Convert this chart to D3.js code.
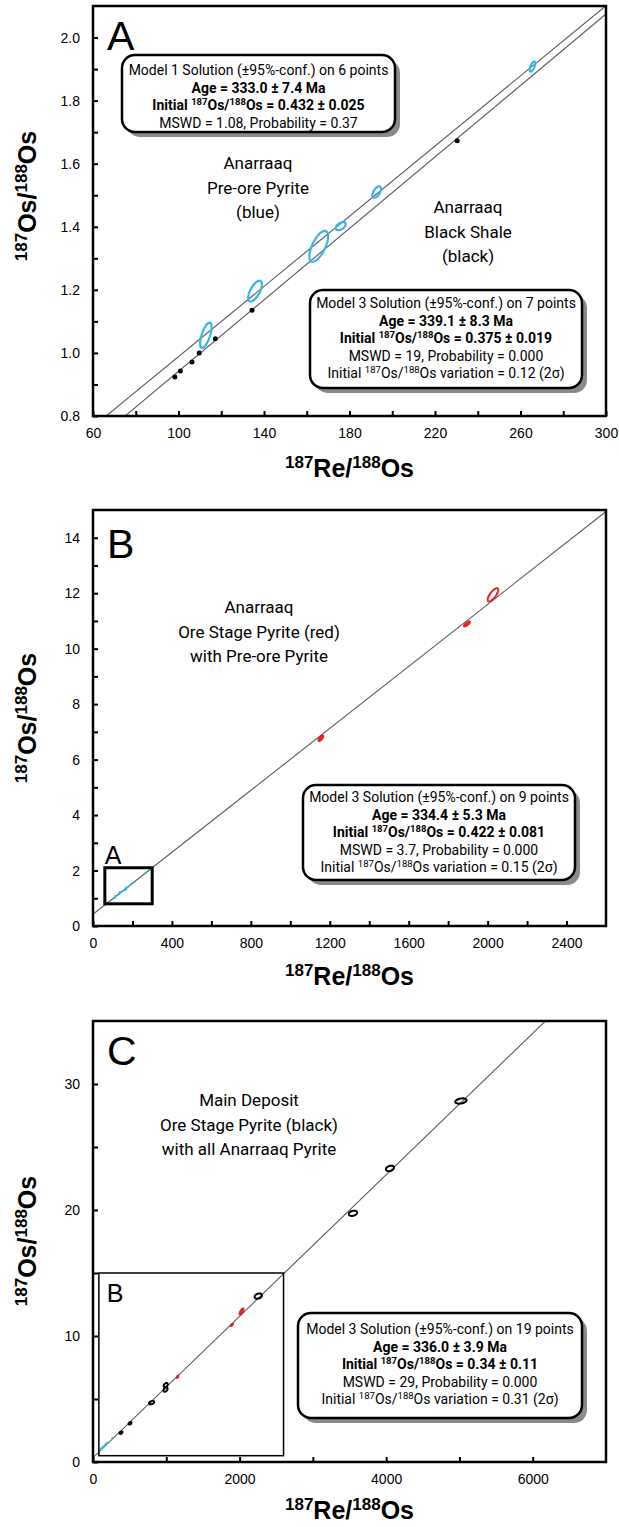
<!DOCTYPE html>
<html>
<head>
<meta charset="utf-8">
<script src="https://cdn.jsdelivr.net/npm/d3@7"></script>
<style>
  body { margin: 0; background: #fff; }
  svg { display: block; }
</style>
</head>
<body>
<div id="chart"></div>
<script>
// Re-Os isochron data, x = 187Re/188Os, y = 187Os/188Os
// sx, sy = 2-sigma half widths of the error ellipse, rho = error correlation
const preOrePyrite = [
  {x: 112.8, y: 1.056, sx: 2.7, sy: 0.040, rho: 0.65},
  {x: 135.8, y: 1.196, sx: 3.2, sy: 0.033, rho: 0.65},
  {x: 165.6, y: 1.338, sx: 4.4, sy: 0.049, rho: 0.65},
  {x: 175.9, y: 1.402, sx: 2.3, sy: 0.013, rho: 0.5},
  {x: 192.7, y: 1.510, sx: 2.0, sy: 0.018, rho: 0.55},
  {x: 265.6, y: 1.908, sx: 1.3, sy: 0.016, rho: 0.65}
];
const blackShale = [
  {x: 98.3, y: 0.924}, {x: 100.9, y: 0.943}, {x: 106.3, y: 0.971},
  {x: 109.7, y: 1.000}, {x: 117.2, y: 1.045}, {x: 134.4, y: 1.135},
  {x: 230.4, y: 1.673}
];
const oreStagePyrite = [
  {x: 1155, y: 6.77, sx: 12, sy: 0.10, rho: 0.7},
  {x: 1895, y: 10.89, sx: 15, sy: 0.09, rho: 0.8},
  {x: 2027, y: 11.94, sx: 27, sy: 0.24, rho: 0.75}
];
const mainDeposit = [
  {x: 382, y: 2.33, sx: 20, sy: 0.10, rho: 0.4},
  {x: 505, y: 3.07, sx: 20, sy: 0.10, rho: 0.4},
  {x: 800, y: 4.71, sx: 36, sy: 0.13, rho: 0.4},
  {x: 990, y: 5.75, sx: 28, sy: 0.17, rho: 0.4},
  {x: 992, y: 6.10, sx: 28, sy: 0.17, rho: 0.4},
  {x: 2255, y: 13.17, sx: 50, sy: 0.21, rho: 0.3},
  {x: 3547, y: 19.74, sx: 57, sy: 0.21, rho: 0.3},
  {x: 4052, y: 23.30, sx: 55, sy: 0.22, rho: 0.3},
  {x: 5020, y: 28.65, sx: 77, sy: 0.21, rho: 0.3}
];

// isochron solutions (age in Ma, initial 187Os/188Os)
const agesA = [333.0, 339.1];
const initialsA = [0.432, 0.375];
const agesB = [334.4];
const initialsB = [0.422];
const agesC = [336.0];
const initialsC = [0.34];
const LAMBDA = 1.666e-11; // 187Re decay constant per year

// ticks
const aXTicks = [60, 80, 100, 120, 140, 160, 180, 200, 220, 240, 260, 280, 300];
const aXLabels = [60, 100, 140, 180, 220, 260, 300];
const aYTicks = [0.8, 0.9, 1.0, 1.1, 1.2, 1.3, 1.4, 1.5, 1.6, 1.7, 1.8, 1.9, 2.0];
const aYLabels = [0.8, 1.0, 1.2, 1.4, 1.6, 1.8, 2.0];
const bXTicks = [0, 200, 400, 600, 800, 1000, 1200, 1400, 1600, 1800, 2000, 2200, 2400];
const bXLabels = [0, 400, 800, 1200, 1600, 2000, 2400];
const bYTicks = [0, 1, 2, 3, 4, 5, 6, 7, 8, 9, 10, 11, 12, 13, 14];
const bYLabels = [0, 2, 4, 6, 8, 10, 12, 14];
const cXTicks = [0, 1000, 2000, 3000, 4000, 5000, 6000];
const cXLabels = [0, 2000, 4000, 6000];
const cYTicks = [0, 5, 10, 15, 20, 25, 30];
const cYLabels = [0, 10, 20, 30];

// inset regions (x0, x1, y0, y1)
const insetA = [60, 300, 0.8, 2.1];
const insetB = [80, 2600, 0.5, 15];

// annotation text, {..} = superscript, leading * = bold
const boxA1 = ["Model 1 Solution (±95%-conf.) on 6 points", "*Age = 333.0 ± 7.4 Ma",
  "*Initial {187}Os/{188}Os = 0.432 ± 0.025", "MSWD = 1.08, Probability = 0.37"];
const boxA2 = ["Model 3 Solution (±95%-conf.) on 7 points", "*Age = 339.1 ± 8.3 Ma",
  "*Initial {187}Os/{188}Os = 0.375 ± 0.019", "MSWD = 19, Probability = 0.000",
  "Initial {187}Os/{188}Os variation = 0.12 (2σ)"];
const boxB = ["Model 3 Solution (±95%-conf.) on 9 points", "*Age = 334.4 ± 5.3 Ma",
  "*Initial {187}Os/{188}Os = 0.422 ± 0.081", "MSWD = 3.7, Probability = 0.000",
  "Initial {187}Os/{188}Os variation = 0.15 (2σ)"];
const boxC = ["Model 3 Solution (±95%-conf.) on 19 points", "*Age = 336.0 ± 3.9 Ma",
  "*Initial {187}Os/{188}Os = 0.34 ± 0.11", "MSWD = 29, Probability = 0.000",
  "Initial {187}Os/{188}Os variation = 0.31 (2σ)"];
const labelA1 = ["Anarraaq", "Pre-ore Pyrite", "(blue)"];
const labelA2 = ["Anarraaq", "Black Shale", "(black)"];
const labelB = ["Anarraaq", "Ore Stage Pyrite (red)", "with Pre-ore Pyrite"];
const labelC = ["Main Deposit", "Ore Stage Pyrite (black)", "with all Anarraaq Pyrite"];

const BLUE = "#35b6e6", RED = "#e3232b";
const TICK_FONT = "Liberation Sans, Arial, sans-serif";
const NOTE_FONT = "Roboto, 'Open Sans', sans-serif";

const svg = d3.select("#chart").append("svg")
    .attr("width", 619)
    .attr("height", 1527)
    .style("background", "#fff");

// write text with {sup} parts as tspans
function richText(sel, str, size) {
  const parts = str.split(/(\{[^}]*\})/).filter(s => s.length);
  let up = false;
  parts.forEach(s => {
    if (s[0] === "{") {
      sel.append("tspan").attr("font-size", size * 0.68).attr("dy", up ? 0 : -size * 0.38).text(s.slice(1, -1));
      up = true;
    } else {
      const t = sel.append("tspan").text(s);
      if (up) t.attr("dy", size * 0.38);
      up = false;
    }
  });
}

function ellipsePath(x, y, d, n = 48) {
  const pts = d3.range(n).map(i => {
    const t = i / n * 2 * Math.PI;
    return [x(d.x + d.sx * Math.cos(t)),
            y(d.y + d.sy * (d.rho * Math.cos(t) + Math.sqrt(1 - d.rho * d.rho) * Math.sin(t)))];
  });
  return d3.line().curve(d3.curveLinearClosed)(pts);
}

function drawPanel(p) {
  const g = svg.append("g");
  const x = d3.scaleLinear().domain(p.xDomain).range([p.left, p.right]);
  const y = d3.scaleLinear().domain(p.yDomain).range([p.bottom, p.top]);

  const clipId = "clip" + p.id;
  svg.append("clipPath").attr("id", clipId)
    .append("rect").attr("x", p.left).attr("y", p.top)
    .attr("width", p.right - p.left).attr("height", p.bottom - p.top);
  const plot = g.append("g").attr("clip-path", `url(#${clipId})`);

  // axes with inward ticks
  const gx = g.append("g").attr("transform", `translate(0,${p.bottom})`)
    .call(d3.axisBottom(x).tickValues(p.xTicks).tickSizeInner(-5).tickSizeOuter(0).tickPadding(12)
      .tickFormat(d => p.xLabels.includes(d) ? p.fmt(d, "x") : ""));
  const gy = g.append("g").attr("transform", `translate(${p.left},0)`)
    .call(d3.axisLeft(y).tickValues(p.yTicks).tickSizeInner(-5).tickSizeOuter(0).tickPadding(13)
      .tickFormat(d => p.yLabels.includes(d) ? p.fmt(d, "y") : ""));
  [gx, gy].forEach(a => {
    a.select(".domain").remove();
    a.selectAll("line").attr("stroke", "#000").attr("stroke-width", 2);
    a.selectAll("text").attr("font-family", TICK_FONT).attr("font-size", 14).attr("fill", "#000");
  });

  // isochron lines
  p.ages.forEach((age, i) => {
    const slope = Math.exp(LAMBDA * age * 1e6) - 1;
    plot.append("line")
      .attr("x1", x(p.xDomain[0])).attr("y1", y(p.initials[i] + slope * p.xDomain[0]))
      .attr("x2", x(p.xDomain[1])).attr("y2", y(p.initials[i] + slope * p.xDomain[1]))
      .attr("stroke", "#5a5a5a").attr("stroke-width", 1.1);
  });

  // inset rectangle
  if (p.inset) {
    const [x0, x1, y0, y1] = p.inset.region;
    g.append("rect").attr("x", x(x0)).attr("y", y(y1))
      .attr("width", x(x1) - x(x0)).attr("height", y(y0) - y(y1))
      .attr("fill", "none").attr("stroke", "#000").attr("stroke-width", p.inset.width);
    g.append("text").attr("x", x(x0) + p.inset.dx).attr("y", y(y1) + p.inset.dy)
      .attr("font-family", TICK_FONT).attr("font-size", p.inset.size).text(p.inset.label);
  }

  // data
  p.series.forEach(s => {
    if (s.dots) {
      plot.selectAll(null).data(s.data).join("circle")
        .attr("cx", d => x(d.x)).attr("cy", d => y(d.y)).attr("r", s.r).attr("fill", s.color);
    } else {
      plot.selectAll(null).data(s.data).join("path")
        .attr("d", d => ellipsePath(x, y, d))
        .attr("fill", s.fill ? s.color : "none")
        .attr("stroke", s.color).attr("stroke-width", s.width);
    }
  });

  // frame
  g.append("rect").attr("x", p.left).attr("y", p.top)
    .attr("width", p.right - p.left).attr("height", p.bottom - p.top)
    .attr("fill", "none").attr("stroke", "#000").attr("stroke-width", 2.5);

  // panel letter
  g.append("text").attr("x", p.left + 14).attr("y", p.top + p.letterDy)
    .attr("font-family", TICK_FONT).attr("font-size", 41).text(p.id);

  // axis titles
  const xt = g.append("text").attr("x", (p.left + p.right) / 2).attr("y", p.bottom + p.xTitleDy)
    .attr("text-anchor", "middle").attr("font-family", TICK_FONT).attr("font-weight", "bold").attr("font-size", 25);
  richText(xt, "{187}Re/{188}Os", 25);
  const yt = g.append("text")
    .attr("transform", `translate(36,${p.yTitleY}) rotate(-90)`)
    .attr("text-anchor", "middle").attr("font-family", TICK_FONT).attr("font-weight", "bold").attr("font-size", 25);
  richText(yt, "{187}Os/{188}Os", 25);

  // group labels
  p.labels.forEach(l => {
    l.lines.forEach((t, i) => {
      g.append("text").attr("x", l.cx).attr("y", l.y0 + i * 24.5)
        .attr("text-anchor", "middle").attr("font-family", NOTE_FONT).attr("font-size", 17).text(t);
    });
  });

  // solution boxes
  p.boxes.forEach(b => {
    g.append("rect").attr("x", b.x0 + 5).attr("y", b.y0 + 5)
      .attr("width", b.x1 - b.x0).attr("height", b.y1 - b.y0).attr("rx", 13)
      .attr("fill", "#8a8a8a");
    g.append("rect").attr("x", b.x0).attr("y", b.y0)
      .attr("width", b.x1 - b.x0).attr("height", b.y1 - b.y0).attr("rx", 13)
      .attr("fill", "#fff").attr("stroke", "#000").attr("stroke-width", 2.5);
    b.lines.forEach((t, i) => {
      const bold = t[0] === "*";
      const txt = g.append("text").attr("x", (b.x0 + b.x1) / 2).attr("y", b.base + i * 17.6)
        .attr("text-anchor", "middle").attr("font-family", NOTE_FONT).attr("font-size", 14)
        .attr("font-weight", bold ? "bold" : "normal");
      richText(txt, bold ? t.slice(1) : t, 14);
    });
  });
}

const fmtA = d3.format(".1f");

drawPanel({
  id: "A", left: 93, right: 606, top: 6, bottom: 416,
  xDomain: [60, 300], yDomain: [0.8, 2.1],
  xTicks: aXTicks, xLabels: aXLabels, yTicks: aYTicks, yLabels: aYLabels,
  fmt: (d, ax) => ax === "y" ? fmtA(d) : String(d),
  ages: agesA, initials: initialsA,
  series: [
    {data: preOrePyrite, color: BLUE, width: 2.2},
    {data: blackShale, color: "#000", dots: true, r: 2.5}
  ],
  letterDy: 44, xTitleDy: 61, yTitleY: 196,
  labels: [
    {cx: 258, y0: 169, lines: labelA1},
    {cx: 468, y0: 213, lines: labelA2}
  ],
  boxes: [
    {x0: 122, x1: 395, y0: 55, y1: 132, base: 75, lines: boxA1},
    {x0: 310, x1: 582, y0: 290, y1: 388, base: 308, lines: boxA2}
  ]
});

drawPanel({
  id: "B", left: 93, right: 606, top: 510, bottom: 926,
  xDomain: [0, 2600], yDomain: [0, 15],
  xTicks: bXTicks, xLabels: bXLabels, yTicks: bYTicks, yLabels: bYLabels,
  fmt: d => String(d),
  ages: agesB, initials: initialsB,
  series: [
    {data: preOrePyrite, color: BLUE, width: 1.8},
    {data: oreStagePyrite.slice(0, 2), color: RED, width: 2, fill: true},
    {data: oreStagePyrite.slice(2), color: RED, width: 2}
  ],
  inset: {region: insetA, width: 3, label: "A", size: 25, dx: 0, dy: -4},
  letterDy: 48, xTitleDy: 59, yTitleY: 718,
  labels: [{cx: 259, y0: 613, lines: labelB}],
  boxes: [{x0: 303, x1: 575, y0: 785, y1: 880, base: 802, lines: boxB}]
});

drawPanel({
  id: "C", left: 93, right: 606, top: 1021, bottom: 1462,
  xDomain: [0, 7000], yDomain: [0, 35],
  xTicks: cXTicks, xLabels: cXLabels, yTicks: cYTicks, yLabels: cYLabels,
  fmt: d => String(d),
  ages: agesC, initials: initialsC,
  series: [
    {data: preOrePyrite, color: BLUE, width: 2},
    {data: oreStagePyrite, color: RED, width: 2, fill: true},
    {data: mainDeposit, color: "#000", width: 2}
  ],
  inset: {region: insetB, width: 1.5, label: "B", size: 25, dx: 8, dy: 29},
  letterDy: 44, xTitleDy: 57, yTitleY: 1241,
  labels: [{cx: 249, y0: 1106, lines: labelC}],
  boxes: [{x0: 298, x1: 582, y0: 1313, y1: 1418, base: 1334, lines: boxC}]
});
</script>
</body>
</html>
